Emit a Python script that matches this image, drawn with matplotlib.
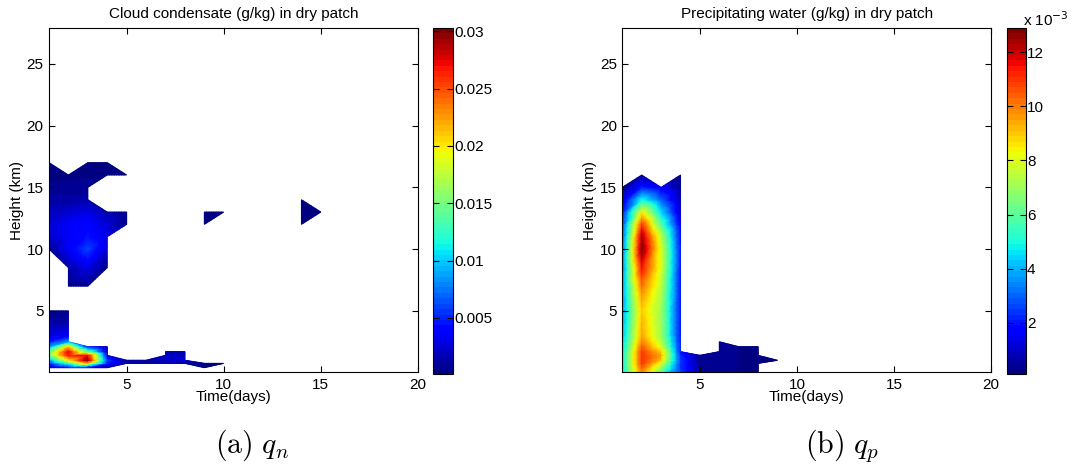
import numpy as np
import matplotlib
matplotlib.use("Agg")
import matplotlib.pyplot as plt
from matplotlib.tri import Triangulation, UniformTriRefiner, LinearTriInterpolator

plt.rcParams["font.family"] = ["Liberation Sans", "DejaVu Sans"]

# grid of the model output: time (days) x height (km)
days = np.arange(1, 21)
heights = [0.05, 0.4, 0.75, 1.0, 1.4, 1.7, 2.1, 2.5, 3.0, 4.0, 5.0, 6.0,
           7.0, 8.5, 10.0, 11.0, 12.0, 13.0, 14.0, 15.0, 16.0, 17.0]

# cloud condensate in the dry patch, 1e-3 g/kg (rows = heights, cols = days)
qn_rows = [
    [0, 0, 0, 0, 0, 0, 0, 0, 0, 0, 0, 0, 0, 0, 0, 0, 0, 0, 0, 0],
    [2, 4, 3, 1, 0, 0, 0, 0, 0.3, 0, 0, 0, 0, 0, 0, 0, 0, 0, 0, 0],
    [5, 12, 22, 5, 1.5, 1.2, 1.5, 1.2, 0.3, 0.2, 0, 0, 0, 0, 0, 0, 0, 0, 0, 0],
    [8, 20, 30.3, 6, 1.0, 1.0, 2.0, 2.0, 0, 0, 0, 0, 0, 0, 0, 0, 0, 0, 0, 0],
    [15, 27, 28, 3, 0, 0, 2.0, 2.0, 0, 0, 0, 0, 0, 0, 0, 0, 0, 0, 0, 0],
    [14, 28, 15, 1.5, 0, 0, 1.5, 1.5, 0, 0, 0, 0, 0, 0, 0, 0, 0, 0, 0, 0],
    [9, 22, 5, 0.8, 0, 0, 0, 0, 0, 0, 0, 0, 0, 0, 0, 0, 0, 0, 0, 0],
    [5, 9, 0, 0, 0, 0, 0, 0, 0, 0, 0, 0, 0, 0, 0, 0, 0, 0, 0, 0],
    [3, 3.5, 0, 0, 0, 0, 0, 0, 0, 0, 0, 0, 0, 0, 0, 0, 0, 0, 0, 0],
    [1.5, 1.5, 0, 0, 0, 0, 0, 0, 0, 0, 0, 0, 0, 0, 0, 0, 0, 0, 0, 0],
    [0.6, 0.5, 0, 0, 0, 0, 0, 0, 0, 0, 0, 0, 0, 0, 0, 0, 0, 0, 0, 0],
    [0, 0, 0, 0, 0, 0, 0, 0, 0, 0, 0, 0, 0, 0, 0, 0, 0, 0, 0, 0],
    [0, 0.5, 0.8, 0, 0, 0, 0, 0, 0, 0, 0, 0, 0, 0, 0, 0, 0, 0, 0, 0],
    [0, 1.5, 3.0, 0.6, 0, 0, 0, 0, 0, 0, 0, 0, 0, 0, 0, 0, 0, 0, 0, 0],
    [1.0, 3.5, 6.0, 2.5, 0, 0, 0, 0, 0, 0, 0, 0, 0, 0, 0, 0, 0, 0, 0, 0],
    [2.5, 3.5, 4.5, 3.0, 0, 0, 0, 0, 0, 0, 0, 0, 0, 0, 0, 0, 0, 0, 0, 0],
    [2.5, 3.5, 4.0, 2.5, 0.8, 0, 0, 0, 0.3, 0, 0, 0, 0, 0.3, 0, 0, 0, 0, 0, 0],
    [2.0, 2.5, 3.0, 1.5, 0.6, 0, 0, 0, 0.3, 0.2, 0, 0, 0, 0.4, 0.2, 0, 0, 0, 0, 0],
    [1.2, 1.2, 1.5, 0, 0, 0, 0, 0, 0, 0, 0, 0, 0, 0.2, 0, 0, 0, 0, 0, 0],
    [0.7, 0.8, 0.8, 0, 0, 0, 0, 0, 0, 0, 0, 0, 0, 0, 0, 0, 0, 0, 0, 0],
    [0.4, 0.4, 0.5, 0.3, 0.1, 0, 0, 0, 0, 0, 0, 0, 0, 0, 0, 0, 0, 0, 0, 0],
    [0.2, 0, 0.2, 0.1, 0, 0, 0, 0, 0, 0, 0, 0, 0, 0, 0, 0, 0, 0, 0, 0],
]

# precipitating water in the dry patch, 1e-3 g/kg
qp_rows = [
    [4.5, 10.0, 6.0, 2.5, 0.5, 0.4, 0.3, 0.3, 0, 0, 0, 0, 0, 0, 0, 0, 0, 0, 0, 0],
    [4.5, 10.5, 7.0, 2.5, 0.5, 0.4, 0.3, 0.3, 0, 0, 0, 0, 0, 0, 0, 0, 0, 0, 0, 0],
    [4.5, 11.0, 8.0, 2.5, 0.4, 0.4, 0.3, 0.3, 0, 0, 0, 0, 0, 0, 0, 0, 0, 0, 0, 0],
    [4.5, 11.0, 9.0, 2.5, 0.4, 0.4, 0.3, 0.3, 0.1, 0, 0, 0, 0, 0, 0, 0, 0, 0, 0, 0],
    [4.5, 11.0, 9.5, 2.3, 0.3, 0.4, 0.3, 0.3, 0, 0, 0, 0, 0, 0, 0, 0, 0, 0, 0, 0],
    [4.5, 11.0, 9.0, 2.0, 0, 0.4, 0.3, 0.3, 0, 0, 0, 0, 0, 0, 0, 0, 0, 0, 0, 0],
    [4.3, 10.5, 8.0, 2.0, 0, 0.4, 0.3, 0.3, 0, 0, 0, 0, 0, 0, 0, 0, 0, 0, 0, 0],
    [4.2, 10.0, 7.5, 2.0, 0, 0.4, 0, 0, 0, 0, 0, 0, 0, 0, 0, 0, 0, 0, 0, 0],
    [4.0, 9.5, 7.0, 2.0, 0, 0, 0, 0, 0, 0, 0, 0, 0, 0, 0, 0, 0, 0, 0, 0],
    [3.8, 9.3, 7.0, 2.0, 0, 0, 0, 0, 0, 0, 0, 0, 0, 0, 0, 0, 0, 0, 0, 0],
    [3.6, 9.0, 7.0, 2.0, 0, 0, 0, 0, 0, 0, 0, 0, 0, 0, 0, 0, 0, 0, 0, 0],
    [3.5, 9.5, 7.2, 2.0, 0, 0, 0, 0, 0, 0, 0, 0, 0, 0, 0, 0, 0, 0, 0, 0],
    [3.5, 10.2, 7.5, 2.0, 0, 0, 0, 0, 0, 0, 0, 0, 0, 0, 0, 0, 0, 0, 0, 0],
    [3.2, 11.5, 8.0, 2.0, 0, 0, 0, 0, 0, 0, 0, 0, 0, 0, 0, 0, 0, 0, 0, 0],
    [3.0, 12.9, 8.0, 2.0, 0, 0, 0, 0, 0, 0, 0, 0, 0, 0, 0, 0, 0, 0, 0, 0],
    [2.8, 12.5, 7.5, 1.8, 0, 0, 0, 0, 0, 0, 0, 0, 0, 0, 0, 0, 0, 0, 0, 0],
    [2.5, 11.0, 6.0, 1.5, 0, 0, 0, 0, 0, 0, 0, 0, 0, 0, 0, 0, 0, 0, 0, 0],
    [2.0, 8.5, 4.5, 1.0, 0, 0, 0, 0, 0, 0, 0, 0, 0, 0, 0, 0, 0, 0, 0, 0],
    [1.2, 5.0, 3.0, 0.7, 0, 0, 0, 0, 0, 0, 0, 0, 0, 0, 0, 0, 0, 0, 0, 0],
    [0.4, 2.2, 1.5, 0.5, 0, 0, 0, 0, 0, 0, 0, 0, 0, 0, 0, 0, 0, 0, 0, 0],
    [0, 0.5, 0, 0.2, 0, 0, 0, 0, 0, 0, 0, 0, 0, 0, 0, 0, 0, 0, 0, 0],
    [0, 0, 0, 0, 0, 0, 0, 0, 0, 0, 0, 0, 0, 0, 0, 0, 0, 0, 0, 0],
]

qn_ticks = [0.005, 0.01, 0.015, 0.02, 0.025, 0.03]
qn_ticklabels = ["0.005", "0.01", "0.015", "0.02", "0.025", "0.03"]
qp_ticks = [2e-3, 4e-3, 6e-3, 8e-3, 10e-3, 12e-3]
qp_ticklabels = ["2", "4", "6", "8", "10", "12"]

FS = 11


def masked_triangulation(x, y, values):
    """Quads with all corners > 0 give two triangles, with three give one."""
    X, Y = np.meshgrid(x, y)
    valid = (values > 0).ravel()
    idx = np.arange(values.size).reshape(values.shape)
    tris = []
    for i in range(values.shape[0] - 1):
        for j in range(values.shape[1] - 1):
            corners = [idx[i, j], idx[i, j + 1], idx[i + 1, j + 1], idx[i + 1, j]]
            ok = [valid[c] for c in corners]
            if all(ok):
                tris.append([corners[0], corners[1], corners[2]])
                tris.append([corners[0], corners[2], corners[3]])
            elif sum(ok) == 3:
                tris.append([c for c, o in zip(corners, ok) if o])
    return Triangulation(X.ravel(), Y.ravel(), np.array(tris))


def draw_panel(fig, ax_rect, cax_rect, values, title, ticks, ticklabels):
    ax = fig.add_axes(ax_rect)
    cax = fig.add_axes(cax_rect)
    tri = masked_triangulation(days, heights, values)
    z = values.ravel()
    # refine so the colours follow the colormap instead of RGB blending
    fine_tri, fine_z = UniformTriRefiner(tri).refine_field(
        z, triinterpolator=LinearTriInterpolator(tri, z), subdiv=3)
    vmin = values[values > 0].min()
    mesh = ax.tripcolor(fine_tri, fine_z, shading="gouraud",
                        cmap=plt.get_cmap("jet", 64), vmin=vmin, vmax=values.max())
    ax.set_xlim(1, 20)
    ax.set_ylim(0.05, 27.9)
    ax.set_xticks([5, 10, 15, 20])
    ax.set_yticks([5, 10, 15, 20, 25])
    ax.tick_params(direction="in", top=True, right=True, length=4, labelsize=FS, pad=4)
    ax.set_title(title, fontsize=FS, pad=7)
    ax.set_xlabel("Time(days)", fontsize=FS, labelpad=-1)
    ax.set_ylabel("Height (km)", fontsize=FS, labelpad=2)

    cb = fig.colorbar(mesh, cax=cax)
    cb.set_ticks(ticks)
    cb.set_ticklabels(ticklabels)
    cax.tick_params(direction="in", left=True, right=True, length=4, labelsize=FS, pad=1)
    return ax, cax


qn = np.array(qn_rows) * 1e-3
qp = np.array(qp_rows) * 1e-3

fig = plt.figure(figsize=(10.91, 4.69), dpi=100)

draw_panel(fig, [0.0449, 0.2068, 0.3382, 0.7335], [0.3969, 0.2026, 0.0183, 0.7377],
           qn, "Cloud condensate (g/kg) in dry patch", qn_ticks, qn_ticklabels)
draw_panel(fig, [0.5704, 0.2068, 0.3379, 0.7335], [0.9227, 0.2026, 0.0174, 0.7377],
           qp, "Precipitating water (g/kg) in dry patch", qp_ticks, qp_ticklabels)

fig.text(0.959, 0.958, r"x 10$^{-3}$", fontsize=FS, ha="center", va="center")

fig.text(0.231, 0.051, r"$\mathrm{(a)}\ q_n$", fontsize=21.5, ha="center", va="center",
         math_fontfamily="cm")
fig.text(0.772, 0.051, r"$\mathrm{(b)}\ q_p$", fontsize=21.5, ha="center", va="center",
         math_fontfamily="cm")

fig.savefig("out.png", dpi=100)
